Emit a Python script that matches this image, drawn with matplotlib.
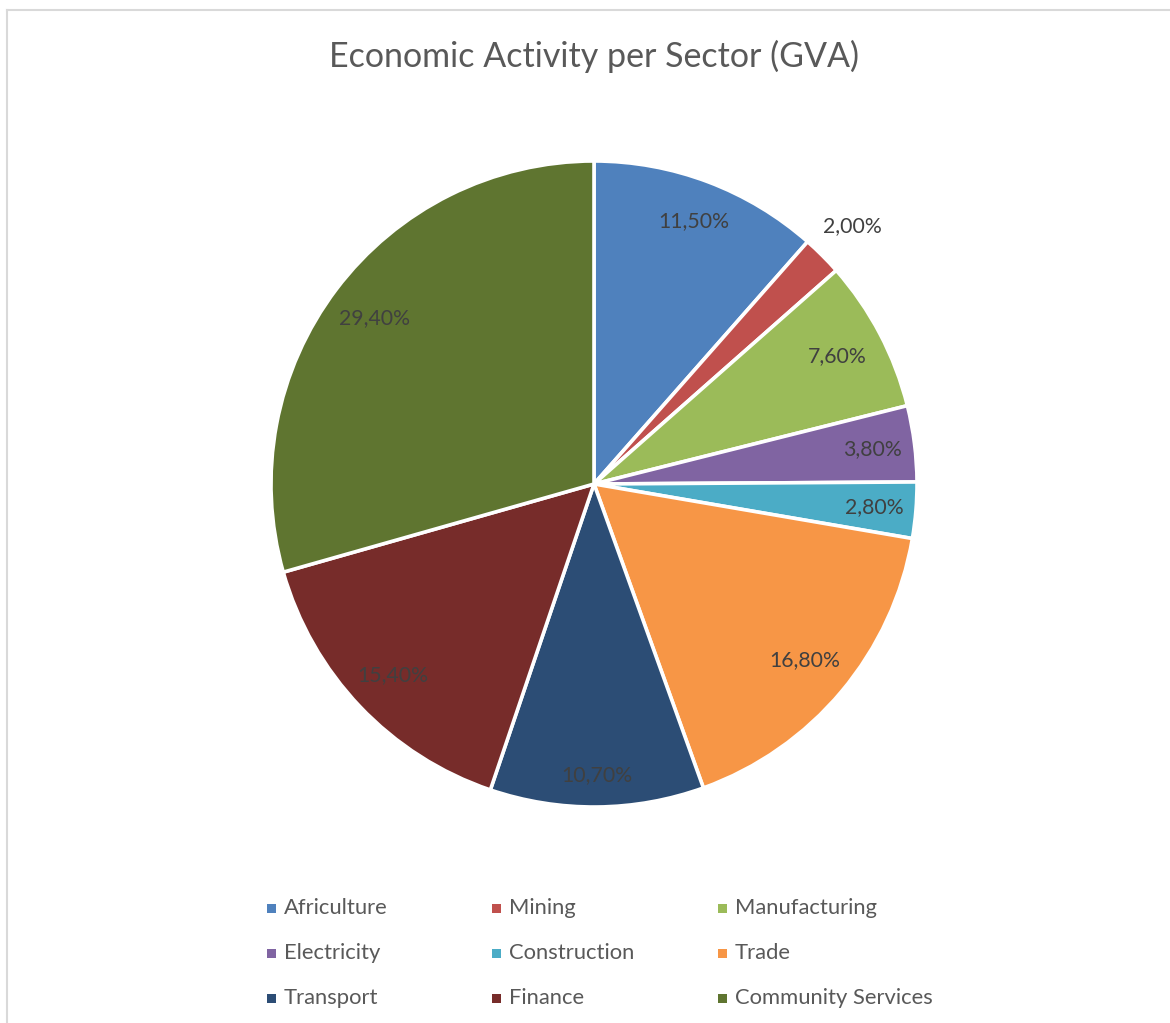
import matplotlib
matplotlib.use("Agg")
import matplotlib.pyplot as plt
from matplotlib.lines import Line2D
from matplotlib.patches import Rectangle
import numpy as np

categories = ["Africulture", "Mining", "Manufacturing", "Electricity", "Construction",
              "Trade", "Transport", "Finance", "Community Services"]
values = [11.5, 2.0, 7.6, 3.8, 2.8, 16.8, 10.7, 15.4, 29.4]
labels = ["11,50%", "2,00%", "7,60%", "3,80%", "2,80%", "16,80%", "10,70%", "15,40%", "29,40%"]
colors = ["#4F81BD", "#C0504D", "#9BBB59", "#8064A2", "#4BACC6",
          "#F79646", "#2C4D75", "#772C2A", "#5F7530"]
title = "Economic Activity per Sector (GVA)"

W, H = 1170, 1023
DPI = 100
plt.rcParams['font.family'] = ['Lato', 'DejaVu Sans']
fig = plt.figure(figsize=(W / DPI, H / DPI), dpi=DPI)
fig.patch.set_facecolor("white")

# pie axes: center (594,484), radius 323 px
cx, cy, r = 594, 484, 323
ax = fig.add_axes([(cx - r) / W, (H - cy - r) / H, 2 * r / W, 2 * r / H])
wedges, _ = ax.pie(values, colors=colors, startangle=90, counterclock=False,
                   radius=1.0, wedgeprops=dict(edgecolor="white", linewidth=2.6))
ax.set_xlim(-1, 1)
ax.set_ylim(-1, 1)
ax.set_aspect("equal")
ax.axis("off")

cum = np.cumsum([0] + values[:-1])
label_r = [0.87, 1.13, 0.85, 0.87, 0.87, 0.85, 0.90, 0.86, 0.85]
for v, c, lab, lr in zip(values, cum, labels, label_r):
    ang = np.deg2rad(90 - 360 * (c + v / 2) / 100.0)
    ax.text(lr * np.cos(ang), lr * np.sin(ang), lab, ha="center", va="center",
            fontsize=15.3, color="#404040", clip_on=False)

fig.text(594 / W, 1 - 56 / H, title, ha="center", va="center", fontsize=24.5, color="#595959")

# legend, row-wise, 3 columns
col_x = [271, 496, 722]
row_y = [908, 953, 998]
for i, (cat, col) in enumerate(zip(categories, colors)):
    x = col_x[i % 3]
    y = row_y[i // 3]
    fig.patches.append(Rectangle(((x - 4.5) / W, 1 - (y + 4.5) / H), 9 / W, 9 / H,
                                 transform=fig.transFigure, facecolor=col, edgecolor="none"))
    fig.text((x + 13) / W, 1 - y / H, cat, ha="left", va="center", fontsize=15.8, color="#595959")

# border lines (top and left)
fig.add_artist(Line2D([6.5 / W, 1.0], [1 - 9.5 / H, 1 - 9.5 / H], transform=fig.transFigure,
                      color="#D9D9D9", linewidth=1.5))
fig.add_artist(Line2D([6.5 / W, 6.5 / W], [0, 1 - 9.5 / H], transform=fig.transFigure,
                      color="#D9D9D9", linewidth=1.5))

fig.savefig("out.png", dpi=DPI, facecolor="white")
